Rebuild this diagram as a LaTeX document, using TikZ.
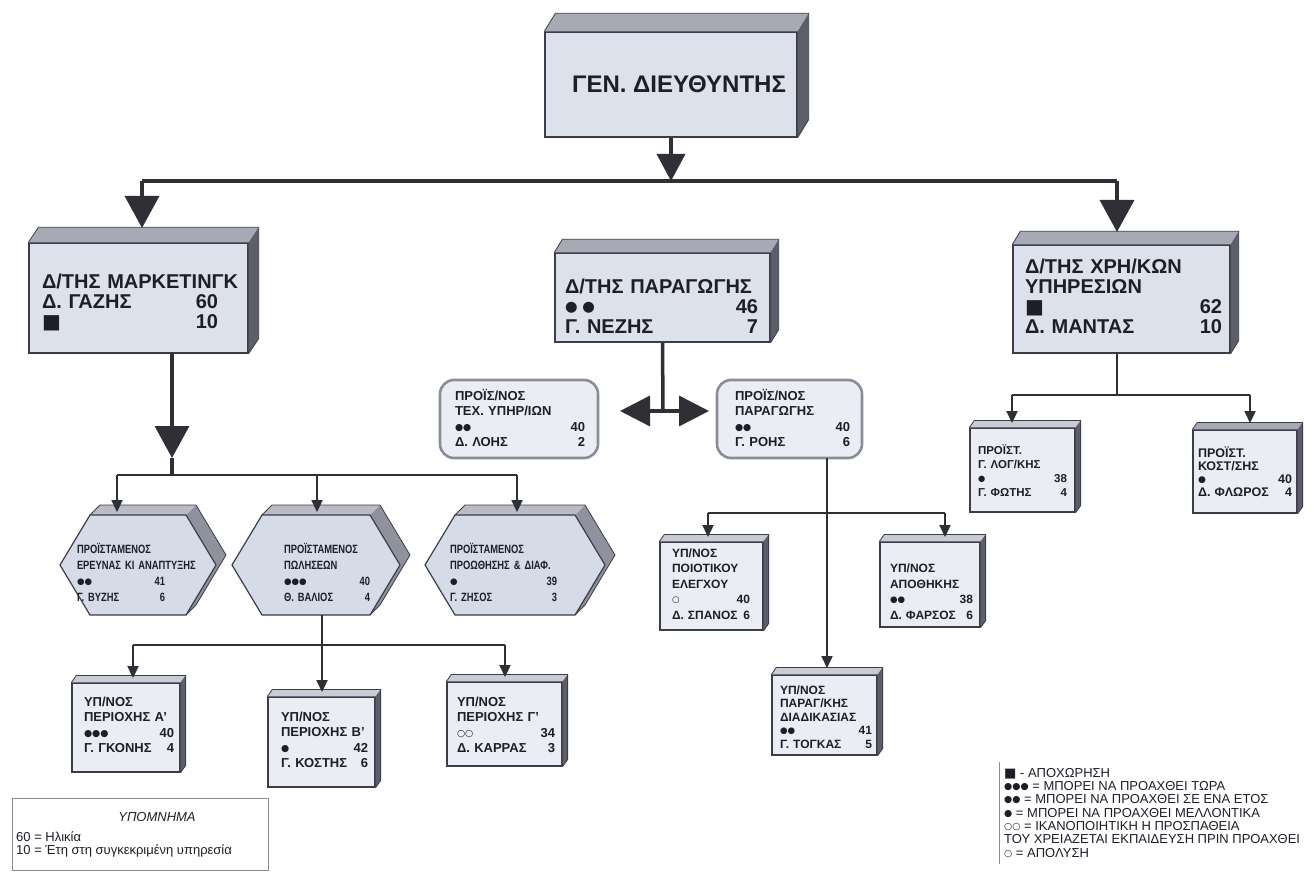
\documentclass[tikz,border=0pt]{standalone}
\usepackage{fontspec}
\usepackage{graphicx}
\setmainfont{Liberation Sans}
\newfontfamily\symfont{DejaVu Sans}
\newfontfamily\narrowsans{Liberation Sans}[FakeStretch=0.78]
\usetikzlibrary{arrows.meta,calc}
\definecolor{frontc}{HTML}{DCE1EC}
\definecolor{smallc}{HTML}{EAEDF4}
\definecolor{hexc}{HTML}{D6DBE8}
\definecolor{topc}{HTML}{A7AAB4}
\definecolor{sidec}{HTML}{5C5F69}
\definecolor{hexside}{HTML}{8F929D}
\definecolor{hextop}{HTML}{B9BCC6}
\definecolor{ltopc}{HTML}{C9CCD5}
\definecolor{edgec}{HTML}{3C3C4A}
\definecolor{linec}{HTML}{2F2F36}
\definecolor{rimc}{HTML}{8A8D97}
\definecolor{txtc}{HTML}{1E1E28}
\definecolor{legc}{HTML}{8C8C94}
\newcommand\rfill{\hspace{0pt plus 1filll}}
\newcommand\gsym[1]{\raisebox{0.08em}{\scalebox{0.72}{\symfont #1}}}
\newcommand\gsq{{\symfont ■}}
% extrusion: node, dx, dy(up), top colour, side colour
\newcommand\extr[5]{%
  \fill[#4] (#1.north west) -- ++(#2,-#3) -- ($(#1.north east)+(#2,-#3)$) -- (#1.north east) -- cycle;
  \fill[#5] (#1.north east) -- ++(#2,-#3) -- ($(#1.south east)+(#2,-#3)$) -- (#1.south east) -- cycle;
  \draw[edgec,line width=0.8pt] (#1.north west) -- ++(#2,-#3) -- ($(#1.north east)+(#2,-#3)$) -- ($(#1.south east)+(#2,-#3)$) -- (#1.south east);
}
% hexagon: name, cx, cy, W, H, c
\newcommand\hexa[6]{%
  \fill[hexside] ({#2-#4+#6},{#3-#5}) -- ({#2-#4+#6+10},{#3-#5-10}) -- ({#2+#4-#6+10},{#3-#5-10}) -- ({#2+#4+10},{#3-10}) -- ({#2+#4-#6+10},{#3+#5-10}) -- ({#2+#4-#6},{#3+#5}) -- cycle;
  \fill[hextop] ({#2-#4+#6},{#3-#5}) -- ({#2-#4+#6+10},{#3-#5-10}) -- ({#2+#4-#6+10},{#3-#5-10}) -- ({#2+#4-#6},{#3-#5}) -- cycle;
  \draw[edgec,line width=0.8pt] ({#2-#4+#6},{#3-#5}) -- ({#2-#4+#6+10},{#3-#5-10}) -- ({#2+#4-#6+10},{#3-#5-10}) -- ({#2+#4+10},{#3-10}) -- ({#2+#4-#6+10},{#3+#5-10}) -- ({#2+#4-#6},{#3+#5});
  \filldraw[fill=hexc,draw=edgec,line width=1.2pt] ({#2-#4},#3) -- ({#2-#4+#6},{#3-#5}) -- ({#2+#4-#6},{#3-#5}) -- ({#2+#4},#3) -- ({#2+#4-#6},{#3+#5}) -- ({#2-#4+#6},{#3+#5}) -- cycle;
  \coordinate (#1top) at (#2,{#3-#5});
}
\begin{document}
\begin{tikzpicture}[x=1pt,y=-1pt,
  front/.style={fill=frontc,draw=edgec,line width=1.3pt,inner sep=0pt},
  small/.style={fill=smallc,draw=edgec,line width=1.2pt,inner sep=0pt},
  rbox/.style={fill=smallc,draw=rimc,line width=2.6pt,rounded corners=14pt,inner sep=0pt},
  gentxt/.style={font=\bfseries\fontsize{24}{24}\selectfont,inner sep=0pt,text=txtc},
  bigtxt/.style={font=\bfseries\fontsize{20}{20}\selectfont,align=left,inner sep=0pt,text=txtc},
  midtxt/.style={font=\bfseries\fontsize{13}{15.5}\selectfont,align=left,inner sep=0pt,text=txtc},
  hextxt/.style={font=\narrowsans\bfseries\fontsize{12}{16}\selectfont,align=left,inner sep=0pt,text=txtc},
  smtxt/.style={font=\bfseries\fontsize{12}{15.5}\selectfont,align=left,inner sep=0pt,text=txtc},
  legtxt/.style={font=\fontsize{13}{13.3}\selectfont,align=left,inner sep=0pt,text=txtc},
  mainline/.style={draw=linec,line width=3.5pt},
  bigarrow/.style={mainline,-{Triangle[width=34pt,length=32pt]}},
  genarrow/.style={mainline,-{Triangle[width=28pt,length=27pt]}},
  dblarrow/.style={mainline,{Triangle[width=30pt,length=30pt]}-{Triangle[width=30pt,length=30pt]}},
  thinline/.style={draw=linec,line width=2.3pt},
  smallarrow/.style={thinline,-{Triangle[width=11pt,length=12pt]}},
]
\useasboundingbox (0,0) rectangle (1313,882);
\fill[white] (0,0) rectangle (1313,882);

% ---------- top ----------
\node[front,minimum width=252,minimum height=105] (gen) at (671,84.5) {};
\extr{gen}{11}{18}{topc}{sidec}
\node[gentxt] (gent) at (679,84) {ΓΕΝ. ΔΙΕΥΘΥΝΤΗΣ};

% ---------- directors ----------
\node[front,minimum width=219,minimum height=110] (mkt) at (138.5,298) {};
\extr{mkt}{10}{15}{topc}{sidec}
\node[bigtxt,text width=176] (mktt) at (130,302.5)
  {\mbox{Δ/ΤΗΣ ΜΑΡΚΕΤΙΝΓΚ}\\Δ. ΓΑΖΗΣ\rfill 60\\\gsq\rfill 10};

\node[front,minimum width=215,minimum height=89] (par) at (662.5,297.5) {};
\extr{par}{8}{13}{topc}{sidec}
\node[bigtxt,text width=193] (part) at (661.5,306)
  {\mbox{Δ/ΤΗΣ ΠΑΡΑΓΩΓΗΣ}\\\gsym{● ●}\rfill 46\\Γ. ΝΕΖΗΣ\rfill 7};

\node[front,minimum width=217,minimum height=108] (xrh) at (1121.5,299) {};
\extr{xrh}{8}{13}{topc}{sidec}
\node[bigtxt,text width=197] (xrht) at (1123.5,296.5)
  {\mbox{Δ/ΤΗΣ ΧΡΗ/ΚΩΝ}\\ΥΠΗΡΕΣΙΩΝ\\\gsq\rfill 62\\Δ. ΜΑΝΤΑΣ\rfill 10};

% ---------- rounded boxes ----------
\node[rbox,minimum width=158,minimum height=78] (tex) at (519,419) {};
\node[midtxt,text width=130] (text) at (520,418)
  {ΠΡΟΪΣ/ΝΟΣ\\\mbox{ΤΕΧ. ΥΠΗΡ/ΙΩΝ}\\\gsym{●●}\rfill 40\\Δ. ΛΟΗΣ\rfill 2};
\node[rbox,minimum width=145,minimum height=78] (prd) at (789.5,419) {};
\node[midtxt,text width=115] (prdt) at (792.5,418)
  {ΠΡΟΪΣ/ΝΟΣ\\ΠΑΡΑΓΩΓΗΣ\\\gsym{●●}\rfill 40\\Γ. ΡΟΗΣ\rfill 6};

% ---------- hexagons ----------
\hexa{hxa}{138}{565}{78}{50}{30}
\node[hextxt,text width=88] (hexa) at (121,572)
  {ΠΡΟΪΣΤΑΜΕΝΟΣ\\\mbox{ΕΡΕΥΝΑΣ ΚΙ ΑΝΑΠΤΥΞΗΣ}\\\gsym{●●}\rfill 41\\Γ. ΒΥΖΗΣ\rfill 6};
\hexa{hxb}{316}{565}{84}{50}{30}
\node[hextxt,text width=86] (hexb) at (327,572)
  {ΠΡΟΪΣΤΑΜΕΝΟΣ\\ΠΩΛΗΣΕΩΝ\\\gsym{●●●}\rfill 40\\Θ. ΒΑΛΙΟΣ\rfill 4};
\hexa{hxc}{515}{565}{90}{50}{30}
\node[hextxt,text width=107] (hexc) at (503.5,572)
  {ΠΡΟΪΣΤΑΜΕΝΟΣ\\\mbox{ΠΡΟΩΘΗΣΗΣ \& ΔΙΑΦ.}\\\gsym{●}\rfill 39\\Γ. ΖΗΣΟΣ\rfill 3};

% ---------- small boxes (marketing) ----------
\node[small,minimum width=108,minimum height=89] (ba) at (126,727.5) {};
\extr{ba}{5}{7}{ltopc}{sidec}
\node[smtxt,text width=90,font=\bfseries\fontsize{13}{15.5}\selectfont] (bat) at (129,725)
  {ΥΠ/ΝΟΣ\\\mbox{ΠΕΡΙΟΧΗΣ Α'}\\\gsym{●●●}\rfill 40\\Γ. ΓΚΟΝΗΣ\rfill 4};
\node[small,minimum width=107,minimum height=90] (bb) at (321.5,742) {};
\extr{bb}{5}{7}{ltopc}{sidec}
\node[smtxt,text width=87,font=\bfseries\fontsize{13}{15.5}\selectfont] (bbt) at (324.5,740)
  {ΥΠ/ΝΟΣ\\\mbox{ΠΕΡΙΟΧΗΣ Β'}\\\gsym{●}\rfill 42\\Γ. ΚΟΣΤΗΣ\rfill 6};
\node[small,minimum width=115,minimum height=84] (bg) at (504.5,724) {};
\extr{bg}{5}{7}{ltopc}{sidec}
\node[smtxt,text width=98,font=\bfseries\fontsize{13}{15.5}\selectfont] (bgt) at (506,725)
  {ΥΠ/ΝΟΣ\\\mbox{ΠΕΡΙΟΧΗΣ Γ'}\\\gsym{○○}\rfill 34\\Δ. ΚΑΡΡΑΣ\rfill 3};

% ---------- small boxes (production) ----------
\node[small,minimum width=103,minimum height=88] (qc) at (711.5,586) {};
\extr{qc}{5}{7}{ltopc}{sidec}
\node[smtxt,text width=78] (qct) at (711,584)
  {ΥΠ/ΝΟΣ\\ΠΟΙΟΤΙΚΟΥ\\ΕΛΕΓΧΟΥ\\\gsym{○}\rfill 40\\Δ. ΣΠΑΝΟΣ\rfill 6};
\node[small,minimum width=100,minimum height=85] (wh) at (930,584.5) {};
\extr{wh}{5}{7}{ltopc}{sidec}
\node[smtxt,text width=83] (wht) at (931.5,591.5)
  {ΥΠ/ΝΟΣ\\ΑΠΟΘΗΚΗΣ\\\gsym{●●}\rfill 38\\Δ. ΦΑΡΣΟΣ\rfill 6};
\node[small,minimum width=105,minimum height=80] (pp) at (824.5,715) {};
\extr{pp}{5}{7}{ltopc}{sidec}
\node[smtxt,text width=92,font=\bfseries\fontsize{12}{13.6}\selectfont] (ppt) at (826,717)
  {ΥΠ/ΝΟΣ\\ΠΑΡΑΓ/ΚΗΣ\\ΔΙΑΔΙΚΑΣΙΑΣ\\\gsym{●●}\rfill 41\\Γ. ΤΟΓΚΑΣ\rfill 5};

% ---------- small boxes (services) ----------
\node[small,minimum width=105,minimum height=84] (lg) at (1022.5,470) {};
\extr{lg}{5}{7}{ltopc}{sidec}
\node[smtxt,text width=89,font=\bfseries\fontsize{11.5}{14}\selectfont] (lgt) at (1022.5,471)
  {ΠΡΟΪΣΤ.\\Γ. ΛΟΓ/ΚΗΣ\\\gsym{●}\rfill 38\\Γ. ΦΩΤΗΣ\rfill 4};
\node[small,minimum width=104,minimum height=83] (cs) at (1245,471.5) {};
\extr{cs}{5}{7}{topc}{sidec}
\node[smtxt,text width=94,font=\bfseries\fontsize{12.5}{13}\selectfont] (cst) at (1245,471.5)
  {ΠΡΟΪΣΤ.\\ΚΟΣΤ/ΣΗΣ\\\gsym{●}\rfill 40\\Δ. ΦΛΩΡΟΣ\rfill 4};

% ---------- connectors: top level ----------
\coordinate (hb) at (671,181);
\coordinate (hL) at (142,181);
\coordinate (hR) at (1117,181);
\coordinate (mktT) at (142,228);
\coordinate (xrhT) at (1117,232);
\draw[mainline] (hL) -- (hR);
\draw[genarrow] (gen.south) -- (hb);
\draw[bigarrow] (hL) -- (mktT);
\draw[bigarrow] (hR) -- (xrhT);

% marketing branch
\coordinate (mkB) at (172,353);
\coordinate (mkA) at (172,458);
\coordinate (hxbar) at (172,475);
\coordinate (hx1) at (117,475);
\coordinate (hx2) at (317,475);
\coordinate (hx3) at (517,475);
\coordinate (h1in) at (117,512);
\coordinate (h2in) at (317,512);
\coordinate (h3in) at (517,512);
\draw[bigarrow] (mkB) -- (mkA);
\draw[mainline] (mkA) -- (hxbar);
\draw[thinline] (hx1) -- (hx3);
\draw[smallarrow] (hx1) -- (h1in);
\draw[smallarrow] (hx2) -- (h2in);
\draw[smallarrow] (hx3) -- (h3in);

\coordinate (h2out) at (322,615);
\coordinate (rb) at (322,645);
\coordinate (rA) at (133,645);
\coordinate (rG) at (505,645);
\coordinate (baIn) at (133,678);
\coordinate (bbIn) at (322,692);
\coordinate (bgIn) at (505,677);
\draw[thinline] (rA) -- (rG);
\draw[thinline] (h2out) -- (rb);
\draw[smallarrow] (rb) -- (bbIn);
\draw[smallarrow] (rA) -- (baIn);
\draw[smallarrow] (rG) -- (bgIn);

% production branch
\coordinate (dA) at (663,411);
\coordinate (dL) at (620,411);
\coordinate (dR) at (709,411);
\draw[mainline] (par.south) -- (dA);
\draw[dblarrow] (dL) -- (dR);
\coordinate (prdB) at (827,458);
\coordinate (pL) at (708,513);
\coordinate (pR) at (945,513);
\coordinate (qcIn) at (708,537);
\coordinate (whIn) at (945,537);
\coordinate (ppIn) at (827,668);
\draw[thinline] (pL) -- (pR);
\draw[smallarrow] (prdB) -- (ppIn);
\draw[smallarrow] (pL) -- (qcIn);
\draw[smallarrow] (pR) -- (whIn);

% services branch
\coordinate (xrhB) at (1117,353);
\coordinate (xb) at (1117,395);
\coordinate (xL) at (1012,395);
\coordinate (xRr) at (1250,395);
\coordinate (lgIn) at (1012,423);
\coordinate (csIn) at (1250,423);
\draw[thinline] (xrhB) -- (xb);
\draw[thinline] (xL) -- (xRr);
\draw[smallarrow] (xL) -- (lgIn);
\draw[smallarrow] (xRr) -- (csIn);

% ---------- legends ----------
\node[draw=legc,line width=0.9pt,minimum width=256,minimum height=72,inner sep=0pt] (leg1) at (140,834) {};
\node[font=\itshape\fontsize{13}{13}\selectfont,text=txtc,inner sep=0pt] (leg1t) at (157,817) {ΥΠΟΜΝΗΜΑ};
\node[legtxt,anchor=west] (leg1a) at (16,837) {60 = Ηλικία};
\node[legtxt,anchor=west] (leg1b) at (16,851) {10 = Έτη στη συγκεκριμένη υπηρεσία};

\node[legtxt,anchor=north west] (leg2) at (1004,768)
  {\gsq{} - ΑΠΟΧΩΡΗΣΗ\\
   \gsym{●●●} = ΜΠΟΡΕΙ ΝΑ ΠΡΟΑΧΘΕΙ ΤΩΡΑ\\
   \gsym{●●} = ΜΠΟΡΕΙ ΝΑ ΠΡΟΑΧΘΕΙ ΣΕ ΕΝΑ ΕΤΟΣ\\
   \gsym{●} = ΜΠΟΡΕΙ ΝΑ ΠΡΟΑΧΘΕΙ ΜΕΛΛΟΝΤΙΚΑ\\
   \gsym{○○} = ΙΚΑΝΟΠΟΙΗΤΙΚΗ Η ΠΡΟΣΠΑΘΕΙΑ\\
   ΤΟΥ ΧΡΕΙΑΖΕΤΑΙ ΕΚΠΑΙΔΕΥΣΗ ΠΡΙΝ ΠΡΟΑΧΘΕΙ\\
   \gsym{○} = ΑΠΟΛΥΣΗ};
\coordinate (lgA) at (999,762);
\coordinate (lgB) at (999,864);
\draw[legc,line width=1pt] (lgA) -- (lgB);
\end{tikzpicture}
\end{document}
